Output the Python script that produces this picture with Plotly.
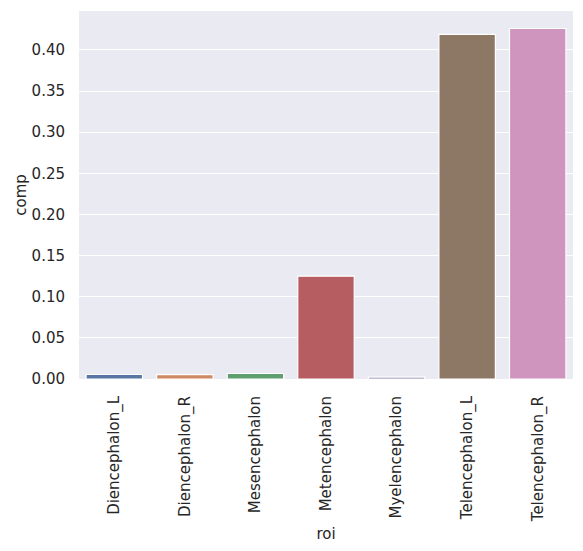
import plotly.graph_objects as go

# data
roi = ["Diencephalon_L", "Diencephalon_R", "Mesencephalon", "Metencephalon",
       "Myelencephalon", "Telencephalon_L", "Telencephalon_R"]
comp = [0.0055, 0.0052, 0.0067, 0.1250, 0.0023, 0.4190, 0.4260]
y_ticks = [0.0, 0.05, 0.10, 0.15, 0.20, 0.25, 0.30, 0.35, 0.40]

# seaborn "deep" palette, desaturated like barplot does
colors = ["#5975a4", "#cc8963", "#5f9e6e", "#b55d60", "#857aab", "#8d7866", "#d095bf"]

fig = go.Figure()
fig.add_trace(go.Bar(
    x=roi, y=comp,
    marker=dict(color=colors, line=dict(color="white", width=1.2)),
    width=0.8,
))

# page body has an 8px margin, so the figure is a bit smaller than the window
font = dict(family="DejaVu Sans", size=15, color="#262626")
fig.update_layout(
    width=575, height=543,
    margin=dict(l=71, r=10, t=3, b=172, autoexpand=False),
    paper_bgcolor="white", plot_bgcolor="#EAEAF2",
    font=font, showlegend=False, bargap=0.2,
)
fig.update_xaxes(
    title=dict(text="roi", font=font, standoff=7),
    tickangle=-90, range=[-0.5, 6.5], showgrid=False, zeroline=False,
    ticks="outside", ticklen=10, tickcolor="rgba(0,0,0,0)", showline=False,
    automargin=False,
)
fig.update_yaxes(
    title=dict(text="comp", font=font, standoff=1),
    range=[0, max(comp) * 1.05], tickvals=y_ticks, tickformat=".2f",
    showgrid=True, gridcolor="white", gridwidth=1.2, zeroline=False,
    ticks="outside", ticklen=10, tickcolor="rgba(0,0,0,0)", showline=False,
    automargin=False,
)

fig.write_html("out.html")
